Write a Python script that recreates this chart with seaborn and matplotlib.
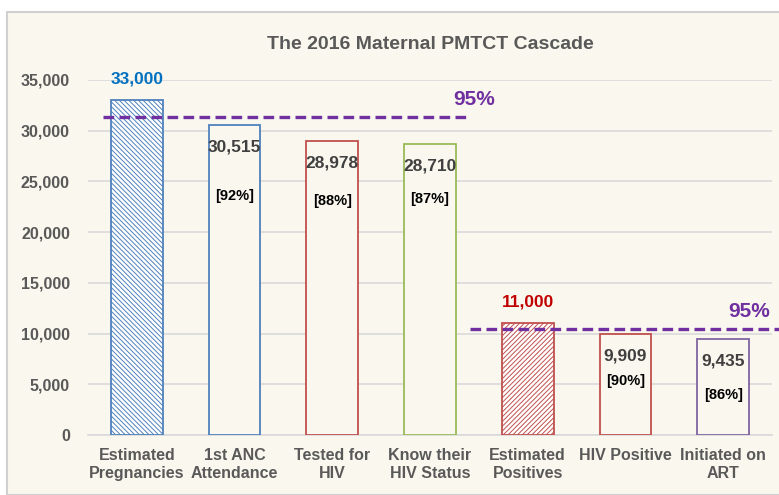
import matplotlib
matplotlib.use("Agg")
import matplotlib.pyplot as plt
import matplotlib.patches as mpatches
import seaborn as sns

# data
stages = ["Estimated\nPregnancies", "1st ANC\nAttendance", "Tested for\nHIV",
          "Know their\nHIV Status", "Estimated\nPositives", "HIV Positive",
          "Initiated on\nART"]
counts = [33000, 30515, 28978, 28710, 11000, 9909, 9435]
pct_labels = ["", "[92%]", "[88%]", "[87%]", "", "[90%]", "[86%]"]
target_pct = 0.95
target_label = "95%"

edge_cols = ["#4F81BD", "#4F81BD", "#C0504D", "#9BBB59", "#C0504D", "#C0504D", "#8064A2"]
hatches = ["\\" * 7, None, None, None, "/" * 7, None, None]

sns.set_style("white")
plt.rcParams['font.family'] = ['Liberation Sans', 'DejaVu Sans']
plt.rcParams['hatch.linewidth'] = 0.7

cream = "#FAF8EE"
fig = plt.figure(figsize=(7.79, 4.95), dpi=100, facecolor="white")
fig.patches.append(mpatches.Rectangle((7/779, 0), 1, 1 - 12/495, transform=fig.transFigure,
                                      facecolor=cream, edgecolor="#D0D0D0", lw=1.5, zorder=-10))
ax = fig.add_axes([88/779, 60/495, (772-88)/779, (435-80)/495])
ax.set_facecolor("none")

sns.barplot(x=list(range(len(stages))), y=counts, ax=ax, width=0.53, color="white",
            saturation=1, zorder=3)
for p, ec, h in zip(ax.patches, edge_cols, hatches):
    p.set_edgecolor(ec)
    p.set_linewidth(1.3)
    if h:
        p.set_hatch(h)
        p.set_facecolor("white")
    else:
        p.set_facecolor(cream)

ax.set_ylim(0, 35000)
ax.set_xlim(-0.5, 6.5)
ax.set_yticks(range(0, 35001, 5000))
ax.set_yticklabels([f"{v:,}" for v in range(0, 35001, 5000)], fontsize=11.5,
                   fontweight="bold", color="#595959")
ax.set_xticks(range(len(stages)))
ax.set_xticklabels(stages, fontsize=11.5, fontweight="bold", color="#595959",
                   linespacing=1.3, va="top")
ax.tick_params(axis="y", length=0, pad=13)
ax.tick_params(axis="x", length=0, pad=9)
ax.grid(axis="y", color="#D9D9D9", lw=1.2, zorder=0)
sns.despine(ax=ax, left=True, right=True, top=True)
ax.spines["bottom"].set_color("#D9D9D9")
ax.spines["bottom"].set_linewidth(1.2)
ax.set_xlabel("")
ax.set_ylabel("")

ax.text(3, 1.1, "The 2016 Maternal PMTCT Cascade", transform=ax.get_xaxis_transform(),
        ha="center", va="center", fontsize=14, fontweight="bold", color="#595959")

# value labels
value_cols = ["#0070C0", "#404040", "#404040", "#404040", "#C00000", "#404040", "#404040"]
pct_offsets = [0, 71, 60, 55, 0, 47, 56]
for i, (v, c, pl) in enumerate(zip(counts, value_cols, pct_labels)):
    if pl == "":
        ax.annotate(f"{v:,}", (i, v), xytext=(0, 21), textcoords="offset pixels",
                    ha="center", va="center", fontsize=12.5, fontweight="bold", color=c)
    else:
        ax.annotate(f"{v:,}", (i, v), xytext=(0, -22), textcoords="offset pixels",
                    ha="center", va="center", fontsize=12.5, fontweight="bold", color=c,
                    zorder=5)
        ax.annotate(pl, (i, v), xytext=(0, -pct_offsets[i]), textcoords="offset pixels",
                    ha="center", va="center", fontsize=10.5, fontweight="bold", color="black",
                    zorder=5)

# 95% target lines
purple = "#7030A0"
ax.plot([-0.346, 3.41], [target_pct * counts[0]] * 2, color=purple, lw=2.4,
        ls=(0, (3.2, 1.6)), zorder=6, clip_on=False)
ax.plot([3.41, 6.66], [target_pct * counts[4]] * 2, color=purple, lw=2.4,
        ls=(0, (3.2, 1.6)), zorder=6, clip_on=False)
ax.annotate(target_label, (3.45, target_pct * counts[0]), xytext=(0, 18),
            textcoords="offset pixels", ha="center", va="center", fontsize=15,
            fontweight="bold", color=purple)
ax.annotate(target_label, (6.27, target_pct * counts[4]), xytext=(0, 18),
            textcoords="offset pixels", ha="center", va="center", fontsize=15,
            fontweight="bold", color=purple, annotation_clip=False)

plt.savefig("out.png", dpi=100, facecolor="white")
